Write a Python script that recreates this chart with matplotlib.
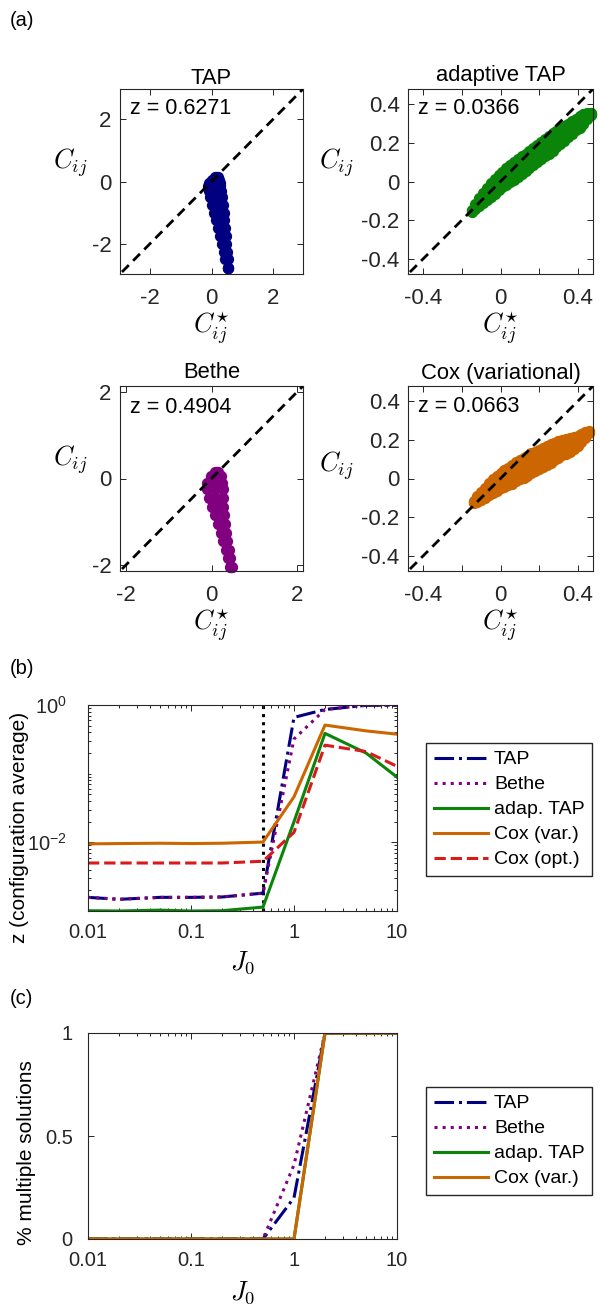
"""
Figure: inferred vs true correlations, error and multiple solutions vs J0
"""
import matplotlib
matplotlib.use('Agg')
import matplotlib.pyplot as plt
from matplotlib.ticker import LogLocator, NullFormatter

plt.rcParams['font.family'] = ['Liberation Sans', 'DejaVu Sans']
plt.rcParams['mathtext.fontset'] = 'cm'
plt.rcParams['axes.unicode_minus'] = False

# ---- panel (a): point clouds (C*_ij, C_ij) ----
# TAP / Bethe: rows of C_ij, with C*_ij at left edge, middle, right edge of the cloud
tap_rows = [0.14, 0.05, -0.05, -0.15, -0.3, -0.5, -0.75, -1.0, -1.25, -1.5, -1.75,
            -2.0, -2.25, -2.5, -2.78]
tap_left = [0.12, 0.0, -0.07, -0.1, -0.08, -0.06, 0.0, 0.07, 0.13, 0.2, 0.26,
            0.33, 0.39, 0.45, 0.53]
tap_mid = [0.16, 0.12, 0.1, 0.09, 0.11, 0.13, 0.18, 0.23, 0.27, 0.32, 0.36,
           0.4, 0.44, 0.48, 0.53]
tap_right = [0.2, 0.25, 0.27, 0.28, 0.3, 0.33, 0.37, 0.4, 0.42, 0.44, 0.46,
             0.48, 0.5, 0.52, 0.54]

bethe_rows = [0.15, 0.05, -0.1, -0.25, -0.45, -0.65, -0.85, -1.05, -1.25, -1.45,
              -1.65, -1.85, -2.05]
bethe_left = [0.08, -0.02, -0.1, -0.1, -0.06, 0.0, 0.08, 0.15, 0.22, 0.28, 0.34, 0.39, 0.44]
bethe_mid = [0.12, 0.1, 0.08, 0.08, 0.1, 0.14, 0.19, 0.23, 0.28, 0.33, 0.37, 0.42, 0.46]
bethe_right = [0.16, 0.22, 0.25, 0.26, 0.27, 0.28, 0.29, 0.31, 0.34, 0.37, 0.40, 0.44, 0.47]

# adaptive TAP / Cox: columns of C*_ij, with C_ij at lower edge, middle, upper edge
adap_cols = [-0.15, -0.13, -0.11, -0.09, -0.07, -0.05, -0.03, -0.01, 0.01, 0.03, 0.05,
             0.07, 0.09, 0.11, 0.13, 0.15, 0.17, 0.19, 0.21, 0.23, 0.25, 0.27, 0.29,
             0.31, 0.33, 0.35, 0.37, 0.39, 0.41, 0.43, 0.45, 0.47]
adap_lo = [-0.16, -0.145, -0.125, -0.11, -0.095, -0.08, -0.065, -0.045, -0.03, -0.02,
           -0.005, 0.01, 0.025, 0.04, 0.055, 0.07, 0.085, 0.10, 0.115, 0.13, 0.145, 0.16,
           0.18, 0.195, 0.21, 0.23, 0.245, 0.265, 0.28, 0.30, 0.325, 0.347]
adap_mid = [-0.155, -0.13, -0.105, -0.085, -0.065, -0.045, -0.025, -0.005, 0.01, 0.025,
            0.04, 0.055, 0.07, 0.085, 0.10, 0.115, 0.13, 0.145, 0.16, 0.175, 0.19, 0.205,
            0.22, 0.235, 0.25, 0.265, 0.28, 0.295, 0.31, 0.325, 0.34, 0.352]
adap_hi = [-0.15, -0.115, -0.085, -0.06, -0.035, -0.01, 0.015, 0.035, 0.05, 0.07,
           0.085, 0.10, 0.115, 0.13, 0.145, 0.16, 0.175, 0.19, 0.205, 0.22, 0.235, 0.25,
           0.26, 0.275, 0.29, 0.30, 0.315, 0.325, 0.34, 0.35, 0.355, 0.357]

cox_cols = [-0.14, -0.12, -0.10, -0.08, -0.06, -0.04, -0.02, 0.00, 0.02, 0.04, 0.06,
            0.08, 0.10, 0.12, 0.14, 0.16, 0.18, 0.20, 0.22, 0.24, 0.26, 0.28, 0.30,
            0.32, 0.34, 0.36, 0.38, 0.40, 0.42, 0.44, 0.46]
cox_lo = [-0.125, -0.12, -0.11, -0.10, -0.085, -0.075, -0.065, -0.05, -0.045, -0.035,
          -0.03, -0.015, -0.005, 0.005, 0.015, 0.03, 0.04, 0.05, 0.06, 0.07, 0.08, 0.095,
          0.105, 0.12, 0.125, 0.14, 0.155, 0.17, 0.19, 0.21, 0.235]
cox_mid = [-0.12, -0.105, -0.09, -0.075, -0.055, -0.04, -0.025, -0.01, 0.0, 0.01, 0.02,
           0.035, 0.045, 0.055, 0.065, 0.08, 0.09, 0.10, 0.11, 0.12, 0.13, 0.14, 0.15,
           0.16, 0.165, 0.175, 0.185, 0.195, 0.21, 0.225, 0.24]
cox_hi = [-0.115, -0.09, -0.07, -0.05, -0.025, -0.005, 0.015, 0.03, 0.045, 0.055, 0.07,
          0.085, 0.095, 0.105, 0.115, 0.13, 0.14, 0.15, 0.16, 0.17, 0.18, 0.185, 0.195,
          0.2, 0.205, 0.21, 0.215, 0.22, 0.23, 0.24, 0.245]

# ---- panels (b), (c) ----
j0 = [0.01, 0.02, 0.05, 0.1, 0.2, 0.5, 1, 2, 5, 10]
z_tap = [0.00158, 0.00148, 0.00158, 0.00158, 0.00160, 0.00182, 0.66, 0.86, 0.99, 0.99]
z_bethe = [0.00158, 0.00148, 0.00158, 0.00158, 0.00160, 0.00182, 0.32, 0.86, 0.99, 0.99]
z_adap = [0.00101, 0.00100, 0.00103, 0.00100, 0.00101, 0.00114, 0.020, 0.386, 0.20, 0.089]
z_coxvar = [0.0095, 0.0096, 0.0097, 0.0096, 0.0097, 0.0101, 0.046, 0.51, 0.42, 0.376]
z_coxopt = [0.0050, 0.0050, 0.0050, 0.0050, 0.0050, 0.0053, 0.014, 0.26, 0.21, 0.128]
j0_crit = 0.5

multi_tap = [0, 0, 0, 0, 0, 0, 0.2, 1, 1, 1]
multi_bethe = [0, 0, 0, 0, 0, 0, 0.36, 1, 1, 1]
multi_adap = [0, 0, 0, 0, 0, 0, 0, 1, 1, 1]
multi_coxvar = [0, 0, 0, 0, 0, 0, 0, 1, 1, 1]

NAVY = '#000080'
PURPLE = '#800080'
GREEN = '#0a850a'
ORANGE = '#cc6600'
RED = '#d91a1a'
AXC = '#262626'
FS = 14.5

fig = plt.figure(figsize=(6, 13.05), dpi=100)


def px_axes(x0, y0, x1, y1):
    return fig.add_axes([x0 / 600, 1 - y1 / 1305, (x1 - x0) / 600, (y1 - y0) / 1305])


def style(ax, xpad=10, ypad=7, labelsize=FS):
    for sp in ax.spines.values():
        sp.set_color(AXC)
        sp.set_linewidth(0.8)
    ax.tick_params(which='both', direction='in', top=True, right=True,
                   color=AXC, labelcolor=AXC, labelsize=labelsize, width=0.7)
    ax.tick_params(which='major', length=4)
    ax.tick_params(which='minor', length=2)
    ax.tick_params(axis='x', pad=xpad)
    ax.tick_params(axis='y', pad=ypad)


def scatter_panel(box, color, title, ztxt, lim, ticks, xlabels, ylabels,
                  title_pad, ylab_x, ylab_y, z_y):
    ax = px_axes(*box)
    ax.set_xlim(-lim, lim)
    ax.set_ylim(-lim, lim)
    ax.plot([-lim * 1.1, lim * 1.1], [-lim * 1.1, lim * 1.1], color='k', lw=2,
            dashes=(3.5, 2.2), zorder=3)
    ax.set_xticks(ticks)
    ax.set_yticks(ticks)
    ax.set_xticklabels(xlabels)
    ax.set_yticklabels(ylabels)
    style(ax, xpad=10, ypad=6, labelsize=16)
    ax.set_title(title, fontsize=15.8, pad=title_pad)
    ax.text(0.055, z_y, ztxt, transform=ax.transAxes, fontsize=15.5, ha='left', va='center')
    ax.set_ylabel(r'$C_{ij}$', fontsize=19, rotation=0, va='center', ha='center')
    ax.yaxis.set_label_coords(ylab_x, ylab_y)
    ax.set_xlabel(r'$C^{\star}_{ij}$', fontsize=19, va='center')
    ax.xaxis.set_label_coords(0.5, -0.29)
    return ax


def dots(ax, xs, ys, color):
    ax.scatter(xs, ys, s=66, color=color, linewidths=0, clip_on=False, zorder=2)


big_ticks = [-2, 0, 2]
big_lab = ['-2', '0', '2']
small_ticks = [-0.4, -0.2, 0, 0.2, 0.4]
small_xlab = ['-0.4', '', '0', '', '0.4']
small_ylab = ['-0.4', '-0.2', '0', '0.2', '0.4']

ax_tap = scatter_panel((120, 89, 303, 274), NAVY, 'TAP', 'z = 0.6271', 2.97,
                       big_ticks, big_lab, big_lab, 1, -0.27, 0.6, 0.895)
for xs in (tap_left, tap_mid, tap_right):
    dots(ax_tap, xs, tap_rows, NAVY)

ax_adap = scatter_panel((408, 89, 593, 274), GREEN, 'adaptive TAP', 'z = 0.0366', 0.48,
                        small_ticks, small_xlab, small_ylab, 6, -0.39, 0.6, 0.895)
for ys in (adap_lo, adap_mid, adap_hi):
    dots(ax_adap, adap_cols, ys, GREEN)

ax_bethe = scatter_panel((120, 386, 303, 571), PURPLE, 'Bethe', 'z = 0.4904', 2.14,
                         big_ticks, big_lab, big_lab, 6, -0.27, 0.6, 0.886)
for xs in (bethe_left, bethe_mid, bethe_right):
    dots(ax_bethe, xs, bethe_rows, PURPLE)

ax_cox = scatter_panel((408, 386, 593, 571), ORANGE, 'Cox (variational)', 'z = 0.0663', 0.48,
                       small_ticks, small_xlab, small_ylab, 5, -0.39, 0.57, 0.89)
for ys in (cox_lo, cox_mid, cox_hi):
    dots(ax_cox, cox_cols, ys, ORANGE)


def log_x(ax):
    ax.set_xscale('log')
    ax.set_xlim(0.01, 10)
    ax.set_xticks([0.01, 0.1, 1, 10])
    ax.set_xticklabels(['0.01', '0.1', '1', '10'])
    ax.xaxis.set_minor_locator(LogLocator(base=10, subs=range(2, 10)))
    ax.xaxis.set_minor_formatter(NullFormatter())


legend_kw = dict(bbox_transform=fig.transFigure, borderaxespad=0, fontsize=14,
                 fancybox=False, edgecolor=AXC, framealpha=1, handlelength=2.8,
                 handletextpad=0.3, labelspacing=0.38, borderpad=0.4)

# (b) error vs J0
axb = px_axes(88, 705, 397, 911)
axb.plot(j0, z_tap, color=NAVY, lw=2.2, ls='-.', label='TAP')
axb.plot(j0, z_bethe, color=PURPLE, lw=2.2, ls=':', label='Bethe')
axb.plot(j0, z_adap, color=GREEN, lw=2.2, ls='-', label='adap. TAP')
axb.plot(j0, z_coxvar, color=ORANGE, lw=2.2, ls='-', label='Cox (var.)')
axb.plot(j0, z_coxopt, color=RED, lw=2.2, ls='--', label='Cox (opt.)')
axb.axvline(j0_crit, color='k', lw=2.2, ls=':', zorder=1)
log_x(axb)
axb.set_yscale('log')
axb.set_ylim(1e-3, 1)
axb.set_yticks([1e-2, 1])
axb.set_yticklabels([r'$\mathregular{10^{-2}}$', r'$\mathregular{10^{0}}$'])
axb.yaxis.set_minor_locator(LogLocator(base=10, subs=range(1, 10)))
axb.yaxis.set_minor_formatter(NullFormatter())
style(axb, xpad=9, ypad=15)
axb.set_xlabel(r'$J_0$', fontsize=19, va='center')
axb.xaxis.set_label_coords(0.5, -0.252)
axb.set_ylabel('z (configuration average)', fontsize=15, va='center')
axb.yaxis.set_label_coords(-0.223, 0.408)
axb.legend(loc='upper left', bbox_to_anchor=(426 / 600, 1 - 743 / 1305), **legend_kw)

# (c) fraction with multiple solutions
axc = px_axes(88, 1033, 397, 1239)
axc.plot(j0, multi_tap, color=NAVY, lw=2.2, ls='-.', label='TAP')
axc.plot(j0, multi_bethe, color=PURPLE, lw=2.2, ls=':', label='Bethe')
axc.plot(j0, multi_adap, color=GREEN, lw=2.2, ls='-', label='adap. TAP')
axc.plot(j0, multi_coxvar, color=ORANGE, lw=2.2, ls='-', label='Cox (var.)')
log_x(axc)
axc.set_ylim(0, 1)
axc.set_yticks([0, 0.5, 1])
axc.set_yticklabels(['0', '0.5', '1'])
style(axc, xpad=9, ypad=11)
axc.set_xlabel(r'$J_0$', fontsize=19, va='center')
axc.xaxis.set_label_coords(0.5, -0.262)
axc.set_ylabel('% multiple solutions', fontsize=15, va='center')
axc.yaxis.set_label_coords(-0.2, 0.42)
axc.legend(loc='upper left', bbox_to_anchor=(426 / 600, 1 - 1087 / 1305), **legend_kw)

fig.text(10 / 600, 1 - 21 / 1305, '(a)', fontsize=FS, va='center', ha='left')
fig.text(10 / 600, 1 - 669 / 1305, '(b)', fontsize=FS, va='center', ha='left')
fig.text(10 / 600, 1 - 998 / 1305, '(c)', fontsize=FS, va='center', ha='left')

fig.savefig('out.png', dpi=100)
